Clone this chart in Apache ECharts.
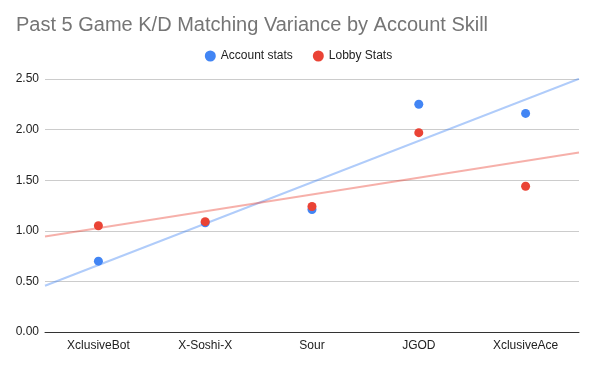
<!DOCTYPE html>
<html><head><meta charset="utf-8">
<script src="https://cdn.jsdelivr.net/npm/echarts@6/dist/echarts.min.js"></script>
<style>html,body{margin:0;padding:0;background:#fff}#c{width:597px;height:368px}</style>
</head><body><div id="c"></div>
<script>
const categories = ['XclusiveBot', 'X-Soshi-X', 'Sour', 'JGOD', 'XclusiveAce'];
const accountStats = [0.70, 1.08, 1.21, 2.25, 2.16];
const lobbyStats = [1.05, 1.09, 1.24, 1.97, 1.44];
const yTicks = [0, 0.5, 1.0, 1.5, 2.0, 2.5];

function trend(vals) {
  const n = vals.length;
  const xs = vals.map((_, i) => i + 1);
  const mx = xs.reduce((a, b) => a + b, 0) / n;
  const my = vals.reduce((a, b) => a + b, 0) / n;
  let sxy = 0, sxx = 0;
  for (let i = 0; i < n; i++) { sxy += (xs[i] - mx) * (vals[i] - my); sxx += (xs[i] - mx) ** 2; }
  const b = sxy / sxx, a = my - b * mx;
  return [[0.5, a + b * 0.5], [n + 0.5, a + b * (n + 0.5)]];
}

const chart = echarts.init(document.getElementById('c'), null, {renderer: 'canvas'});
const font = 'Arial, "Liberation Sans", sans-serif';
chart.setOption({
  animation: false,
  color: ['#4285F4', '#EA4335'],
  title: {
    text: 'Past 5 Game K/D Matching Variance by Account Skill',
    left: 11, top: 10,
    textStyle: {fontFamily: font, fontSize: 20, fontWeight: 'normal', color: '#757575'}
  },
  legend: {
    top: 45, left: 'center',
    itemWidth: 11, itemHeight: 11, itemGap: 20,
    icon: 'circle',
    textStyle: {fontFamily: font, fontSize: 12, color: '#222'},
    data: [
      {name: 'Account stats', itemStyle: {color: '#4285F4'}},
      {name: 'Lobby Stats', itemStyle: {color: '#EA4335'}}
    ]
  },
  grid: {left: 45, right: 18, top: 79, bottom: 36, containLabel: false},
  xAxis: [{
    type: 'category', data: categories,
    axisTick: {show: false},
    axisLine: {lineStyle: {color: '#333', width: 1}},
    axisLabel: {fontFamily: font, fontSize: 12, color: '#222', margin: 8}
  }, {
    type: 'value', min: 0.5, max: categories.length + 0.5, show: false
  }],
  yAxis: {
    type: 'value', min: yTicks[0], max: yTicks[yTicks.length - 1], interval: 0.5,
    axisLine: {show: false}, axisTick: {show: false},
    splitLine: {lineStyle: {color: '#cccccc', width: 1}},
    axisLabel: {fontFamily: font, fontSize: 12, color: '#222', margin: 6,
      formatter: v => v.toFixed(2)}
  },
  series: [
    {name: 'Account stats', type: 'scatter', data: accountStats, symbolSize: 9,
     itemStyle: {color: '#4285F4', opacity: 1}, z: 3},
    {name: 'Lobby Stats', type: 'scatter', data: lobbyStats, symbolSize: 9,
     itemStyle: {color: '#EA4335', opacity: 1}, z: 4},
    {name: 'Account stats', type: 'line', xAxisIndex: 1, data: trend(accountStats),
     symbol: 'none', itemStyle: {color: '#4285F4'},
     lineStyle: {color: 'rgba(66,133,244,0.42)', width: 2}, silent: true, z: 1},
    {name: 'Lobby Stats', type: 'line', xAxisIndex: 1, data: trend(lobbyStats),
     symbol: 'none', itemStyle: {color: '#EA4335'},
     lineStyle: {color: 'rgba(234,67,53,0.42)', width: 2}, silent: true, z: 1}
  ]
});
</script></body></html>
